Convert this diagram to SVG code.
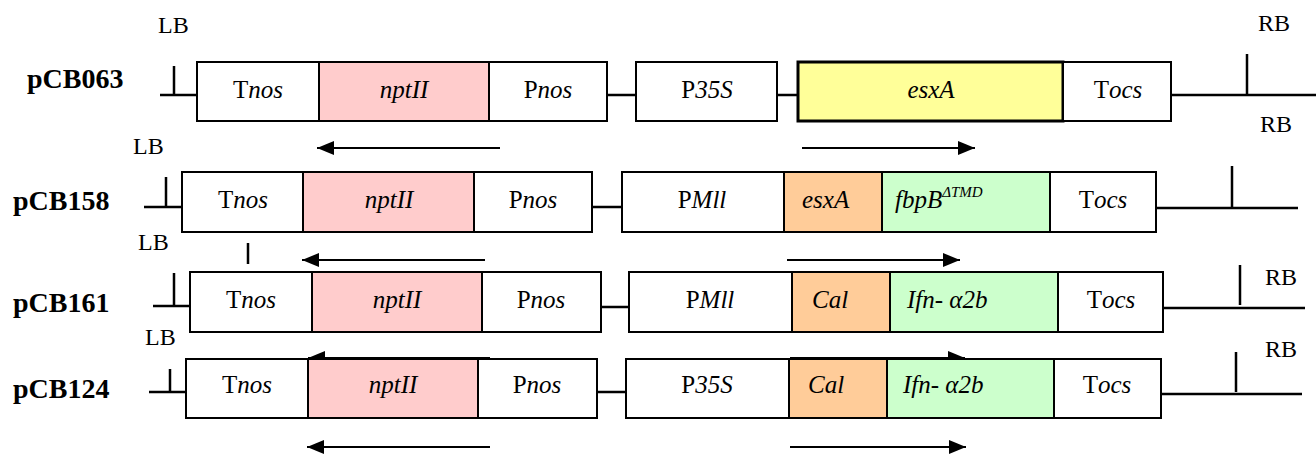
<svg xmlns="http://www.w3.org/2000/svg" width="1316" height="455" viewBox="0 0 1316 455" font-family="'Liberation Serif', 'Times New Roman', serif">
<style>
text,tspan{font-family:"Liberation Serif","Times New Roman",serif;fill:#000}
.t{font-size:25px;text-anchor:middle}
.tl{font-size:25px}
.i{font-style:italic}
.sup{font-size:15px;font-style:italic}
.lab{font-size:28px;font-weight:bold}
.b{font-size:24px}
.box{stroke:#000;stroke-width:2}
.w{fill:#fff}
.pk{fill:#ffcccc}
.ye{fill:#ffff99;stroke-width:3}
.or{fill:#ffcc99}
.gr{fill:#ccffcc}
.bb{stroke:#000;stroke-width:2.5;fill:none}
.ar{stroke:#000;stroke-width:2;fill:none;marker-end:url(#ah)}
</style>
<defs>
<marker id="ah" markerUnits="userSpaceOnUse" markerWidth="18" markerHeight="14" refX="17" refY="7" orient="auto">
<path d="M0,0 L17,7 L0,14 z" fill="#000"/>
</marker>
</defs>
<rect x="0" y="0" width="1316" height="455" fill="#fff"/>

<!-- backbone lines, border ticks and transcription arrows -->
<g id="connectors">
  <!-- pCB063 -->
  <path class="bb" d="M160,95H197M174,66V95M607,95H636M777,95H798M1171,95H1316M1247,54V95"/>
  <line class="ar" x1="500" y1="148" x2="317" y2="148"/>
  <line class="ar" x1="802" y1="148" x2="975" y2="148"/>
  <!-- pCB158 -->
  <path class="bb" d="M144,207H182M166,177V207M592,207H622M1156,208H1298M1232,166V207"/>
  <line class="ar" x1="485" y1="260" x2="302" y2="260"/>
  <line class="ar" x1="787" y1="260" x2="960" y2="260"/>
  <!-- pCB161 -->
  <path class="bb" d="M248,243V264M153,306H190M174,273V306M601,307H629M1163,308H1305M1240,265V305"/>
  <line class="ar" x1="490" y1="358" x2="308" y2="358"/>
  <line class="ar" x1="790" y1="358" x2="965" y2="358"/>
  <!-- pCB124 -->
  <path class="bb" d="M149,392H186M170,369V392M597,392H626M1161,394H1302M1236,352V392"/>
  <line class="ar" x1="490" y1="447" x2="307" y2="447"/>
  <line class="ar" x1="790" y1="447" x2="966" y2="447"/>
</g>

<g id="pCB063">
  <text class="lab" x="27" y="88">pCB063</text>
  <text class="b" x="158" y="33">LB</text>
  <text class="b" x="1258" y="31">RB</text>
  <text class="b" x="1260" y="132">RB</text>
  <g id="r1-tnos"><rect class="box w" x="197" y="62" width="122" height="59"/><text class="t" x="258" y="98">T<tspan class="i">nos</tspan></text></g>
  <g id="r1-nptii"><rect class="box pk" x="319" y="62" width="170" height="59"/><text class="t i" x="404" y="98">nptII</text></g>
  <g id="r1-pnos"><rect class="box w" x="489" y="62" width="118" height="59"/><text class="t" x="548" y="98">P<tspan class="i">nos</tspan></text></g>
  <g id="r1-p35s"><rect class="box w" x="636" y="62" width="141" height="59"/><text class="t" x="707" y="98">P<tspan class="i">35S</tspan></text></g>
  <g id="r1-esxa"><rect class="box ye" x="798" y="62" width="265" height="59"/><text class="t i" x="931" y="98">esxA</text></g>
  <g id="r1-tocs"><rect class="box w" x="1063" y="62" width="108" height="59"/><text class="t" x="1118" y="98">T<tspan class="i">ocs</tspan></text></g>
</g>

<g id="pCB158">
  <text class="lab" x="13" y="210">pCB158</text>
  <text class="b" x="133" y="154">LB</text>
  <g id="r2-tnos"><rect class="box w" x="182" y="172" width="121" height="60"/><text class="t" x="243" y="208">T<tspan class="i">nos</tspan></text></g>
  <g id="r2-nptii"><rect class="box pk" x="303" y="172" width="171" height="60"/><text class="t i" x="389" y="208">nptII</text></g>
  <g id="r2-pnos"><rect class="box w" x="474" y="172" width="118" height="60"/><text class="t" x="533" y="208">P<tspan class="i">nos</tspan></text></g>
  <g id="r2-pmll"><rect class="box w" x="622" y="172" width="162" height="60"/><text class="t" x="702" y="208">P<tspan class="i">Mll</tspan></text></g>
  <g id="r2-esxa"><rect class="box or" x="784" y="172" width="98" height="60"/><text class="tl i" x="802" y="208">esxA</text></g>
  <g id="r2-fbpb"><rect class="box gr" x="882" y="172" width="168" height="60"/><text class="tl i" x="895" y="208">fbpB<tspan class="sup" dy="-11">ΔTMD</tspan></text></g>
  <g id="r2-tocs"><rect class="box w" x="1050" y="172" width="106" height="60"/><text class="t" x="1103" y="208">T<tspan class="i">ocs</tspan></text></g>
</g>

<g id="pCB161">
  <text class="lab" x="13" y="312">pCB161</text>
  <text class="b" x="138" y="250">LB</text>
  <text class="b" x="1265" y="285">RB</text>
  <g id="r3-tnos"><rect class="box w" x="190" y="272" width="122" height="60"/><text class="t" x="251" y="308">T<tspan class="i">nos</tspan></text></g>
  <g id="r3-nptii"><rect class="box pk" x="312" y="272" width="170" height="60"/><text class="t i" x="397" y="308">nptII</text></g>
  <g id="r3-pnos"><rect class="box w" x="482" y="272" width="119" height="60"/><text class="t" x="541" y="308">P<tspan class="i">nos</tspan></text></g>
  <g id="r3-pmll"><rect class="box w" x="629" y="272" width="163" height="60"/><text class="t" x="710" y="308">P<tspan class="i">Mll</tspan></text></g>
  <g id="r3-cal"><rect class="box or" x="792" y="272" width="98" height="60"/><text class="tl i" x="812" y="308">Cal</text></g>
  <g id="r3-ifn"><rect class="box gr" x="890" y="272" width="168" height="60"/><text class="tl i" x="907" y="308">Ifn- α2b</text></g>
  <g id="r3-tocs"><rect class="box w" x="1058" y="272" width="105" height="60"/><text class="t" x="1111" y="308">T<tspan class="i">ocs</tspan></text></g>
</g>

<g id="pCB124">
  <text class="lab" x="13" y="398">pCB124</text>
  <text class="b" x="145" y="345">LB</text>
  <text class="b" x="1265" y="357">RB</text>
  <g id="r4-tnos"><rect class="box w" x="186" y="359" width="122" height="59"/><text class="t" x="247" y="393">T<tspan class="i">nos</tspan></text></g>
  <g id="r4-nptii"><rect class="box pk" x="308" y="359" width="170" height="59"/><text class="t i" x="393" y="393">nptII</text></g>
  <g id="r4-pnos"><rect class="box w" x="478" y="359" width="119" height="59"/><text class="t" x="537" y="393">P<tspan class="i">nos</tspan></text></g>
  <g id="r4-p35s"><rect class="box w" x="626" y="359" width="163" height="59"/><text class="t" x="707" y="393">P<tspan class="i">35S</tspan></text></g>
  <g id="r4-cal"><rect class="box or" x="789" y="359" width="98" height="59"/><text class="tl i" x="808" y="393">Cal</text></g>
  <g id="r4-ifn"><rect class="box gr" x="887" y="359" width="167" height="59"/><text class="tl i" x="903" y="393">Ifn- α2b</text></g>
  <g id="r4-tocs"><rect class="box w" x="1054" y="359" width="107" height="59"/><text class="t" x="1107" y="393">T<tspan class="i">ocs</tspan></text></g>
</g>
</svg>
